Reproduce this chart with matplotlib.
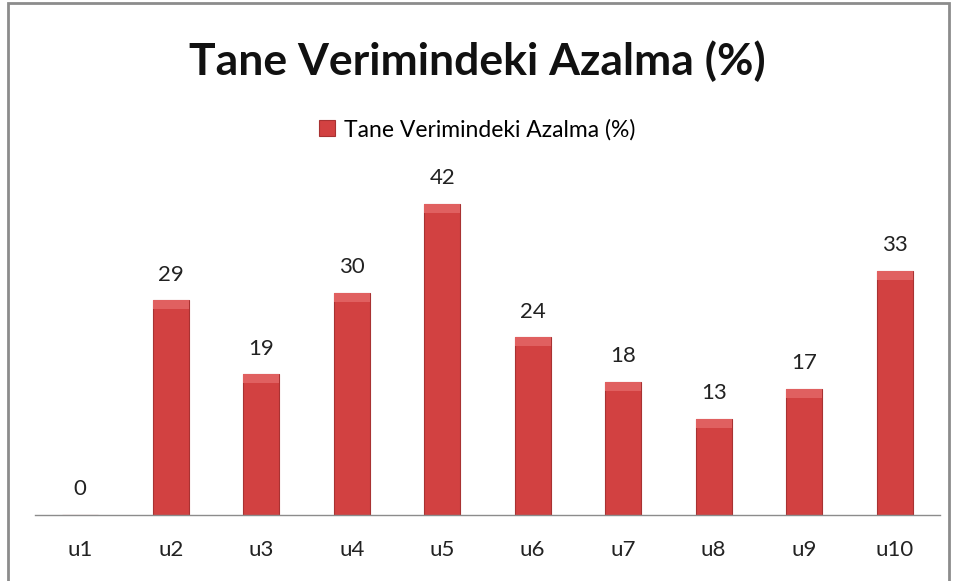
import matplotlib
matplotlib.use('Agg')
import matplotlib.pyplot as plt
from matplotlib.patches import Rectangle

# data
categories = ['u1', 'u2', 'u3', 'u4', 'u5', 'u6', 'u7', 'u8', 'u9', 'u10']
values = [0, 29, 19, 30, 42, 24, 18, 13, 17, 33]
series_name = 'Tane Verimindeki Azalma (%)'

plt.rcParams['font.family'] = ['Lato', 'DejaVu Sans']

fig = plt.figure(figsize=[9.55, 5.81], dpi=100)
ax = fig.add_axes([0.0366, 0.1136, 0.9476, 0.5731])

x = range(len(categories))
bars = ax.bar(x, values, width=0.4, color='#D24141', edgecolor='#A83232',
              linewidth=0.8, label=series_name)

# lighter bevel strip at the top of each bar
ax.bar(x, [min(v, 1.2) for v in values], bottom=[max(v - 1.2, 0) for v in values],
       width=0.4, color='#E06060', linewidth=0)

for xi, v in zip(x, values):
    ax.text(xi, v + 3.5, str(v), ha='center', va='center', fontsize=16, color='#222222')

ax.set_xlim(-0.5, len(categories) - 0.5)
ax.set_ylim(0, 45)
ax.set_xticks(list(x))
ax.set_xticklabels(categories, fontsize=16, color='#222222')
ax.tick_params(axis='x', length=0, pad=18)
ax.set_yticks([])
for s in ['top', 'right', 'left']:
    ax.spines[s].set_visible(False)
ax.spines['bottom'].set_color('#8c8c8c')
ax.spines['bottom'].set_linewidth(1.0)

fig.text(0.5, 0.895, series_name, ha='center', va='center', fontsize=32,
         fontweight='bold', color='#111111')

leg = fig.legend(handles=[bars], labels=[series_name], loc='center',
                 bbox_to_anchor=(0.5, 0.777), frameon=False, fontsize=16.5,
                 handlelength=0.7, handleheight=0.7, handletextpad=0.4)

# outer border of the chart area
fig.patches.append(Rectangle((0.008, -0.01), 0.986, 1.005, transform=fig.transFigure,
                             fill=False, edgecolor='#8c8c8c', linewidth=2))

fig.savefig('out.png', dpi=100)
